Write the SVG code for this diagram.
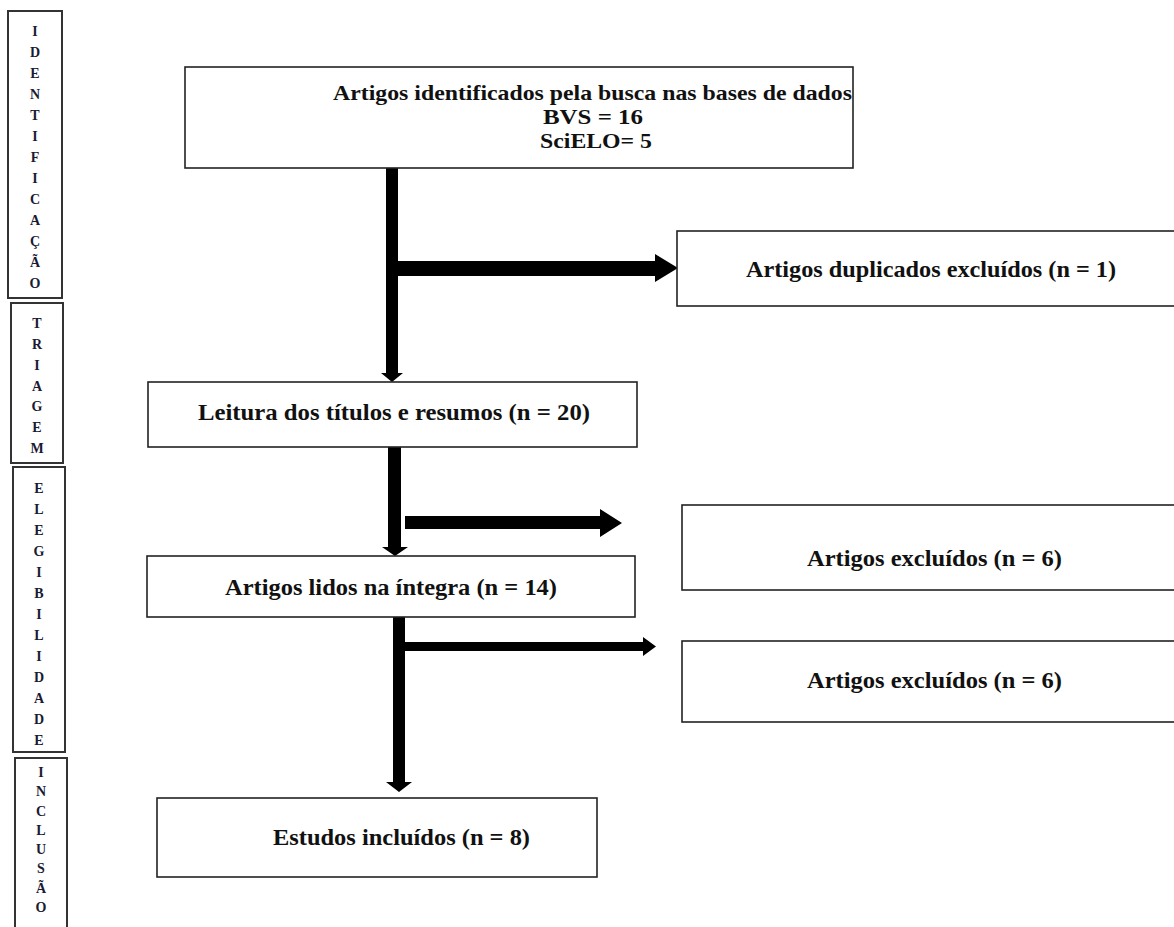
<svg xmlns="http://www.w3.org/2000/svg" width="1174" height="927" viewBox="0 0 1174 927">
<style>
.box{fill:#fff;stroke:#222;stroke-width:1.6}
.side{fill:#fff;stroke:#333;stroke-width:2}
.t{font-family:"Liberation Serif","Times New Roman",serif;font-weight:bold;font-size:24px;fill:#111}
.tt{font-family:"Liberation Serif","Times New Roman",serif;font-weight:bold;font-size:21px;fill:#111}
.s{font-family:"Liberation Serif","Times New Roman",serif;font-weight:bold;font-size:14px;fill:#1a1a33;text-anchor:middle}
.c{fill:#000}
</style>
<rect width="1174" height="927" fill="#fff"/>

<g id="side-identificacao">
<rect class="side" x="8" y="11" width="54" height="287"/>
<text class="s" x="35" y="36">I</text><text class="s" x="35" y="57">D</text><text class="s" x="35" y="78">E</text><text class="s" x="35" y="99">N</text><text class="s" x="35" y="120">T</text><text class="s" x="35" y="141">I</text><text class="s" x="35" y="162">F</text><text class="s" x="35" y="183">I</text><text class="s" x="35" y="204">C</text><text class="s" x="35" y="225">A</text><text class="s" x="35" y="246">Ç</text><text class="s" x="35" y="267">Ã</text><text class="s" x="35" y="288">O</text>
</g>
<g id="side-triagem">
<rect class="side" x="11" y="303" width="52" height="160"/>
<text class="s" x="37" y="328">T</text><text class="s" x="37" y="349">R</text><text class="s" x="37" y="370">I</text><text class="s" x="37" y="391">A</text><text class="s" x="37" y="411">G</text><text class="s" x="37" y="432">E</text><text class="s" x="37" y="453">M</text>
</g>
<g id="side-elegibilidade">
<rect class="side" x="13" y="467" width="52" height="285"/>
<text class="s" x="39" y="493">E</text><text class="s" x="39" y="514">L</text><text class="s" x="39" y="535">E</text><text class="s" x="39" y="556">G</text><text class="s" x="39" y="577">I</text><text class="s" x="39" y="598">B</text><text class="s" x="39" y="619">I</text><text class="s" x="39" y="640">L</text><text class="s" x="39" y="661">I</text><text class="s" x="39" y="682">D</text><text class="s" x="39" y="703">A</text><text class="s" x="39" y="724">D</text><text class="s" x="39" y="745">E</text>
</g>
<g id="side-inclusao">
<rect class="side" x="15" y="758" width="52" height="180"/>
<text class="s" x="41" y="777">I</text><text class="s" x="41" y="796">N</text><text class="s" x="41" y="816">C</text><text class="s" x="41" y="835">L</text><text class="s" x="41" y="854">U</text><text class="s" x="41" y="873">S</text><text class="s" x="41" y="893">Ã</text><text class="s" x="41" y="912">O</text>
</g>

<g id="connectors">
<polygon class="c" points="386,168 398,168 398,373 403,373 392,382 381,373 386,373"/>
<polygon class="c" points="397,261 655,261 655,254 678,268 655,282 655,276 397,276"/>
<polygon class="c" points="388,447 401,447 401,547 408,547 395,556 382,547 388,547"/>
<polygon class="c" points="405,516 600,516 600,509 622,523 600,537 600,529 405,529"/>
<polygon class="c" points="393,617 405,617 405,782 412,782 399,792 386,782 393,782"/>
<polygon class="c" points="405,642 643,642 643,637 656,646.5 643,656 643,651 405,651"/>
</g>

<g id="node-identificados">
<rect class="box" x="185" y="67" width="668" height="101"/>
<text class="tt" x="333" y="100" textLength="519" lengthAdjust="spacingAndGlyphs">Artigos identificados pela busca nas bases de dados</text>
<text class="tt" x="543" y="124" textLength="100" lengthAdjust="spacingAndGlyphs">BVS = 16</text>
<text class="tt" x="540" y="148" textLength="112" lengthAdjust="spacingAndGlyphs">SciELO= 5</text>
</g>
<g id="node-duplicados">
<rect class="box" x="677" y="231" width="510" height="75"/>
<text class="t" x="746" y="277" textLength="370" lengthAdjust="spacingAndGlyphs">Artigos duplicados excluídos (n = 1)</text>
</g>
<g id="node-leitura">
<rect class="box" x="148" y="382" width="489" height="65"/>
<text class="t" x="198" y="420" textLength="392" lengthAdjust="spacingAndGlyphs">Leitura dos títulos e resumos (n = 20)</text>
</g>
<g id="node-excluidos1">
<rect class="box" x="682" y="505" width="505" height="85"/>
<text class="t" x="807" y="566" textLength="255" lengthAdjust="spacingAndGlyphs">Artigos excluídos (n = 6)</text>
</g>
<g id="node-lidos">
<rect class="box" x="147" y="556" width="488" height="61"/>
<text class="t" x="225" y="595" textLength="332" lengthAdjust="spacingAndGlyphs">Artigos lidos na íntegra (n = 14)</text>
</g>
<g id="node-excluidos2">
<rect class="box" x="682" y="641" width="505" height="81"/>
<text class="t" x="807" y="688" textLength="255" lengthAdjust="spacingAndGlyphs">Artigos excluídos (n = 6)</text>
</g>
<g id="node-estudos">
<rect class="box" x="157" y="798" width="440" height="79"/>
<text class="t" x="273" y="845" textLength="257" lengthAdjust="spacingAndGlyphs">Estudos incluídos (n = 8)</text>
</g>
</svg>
